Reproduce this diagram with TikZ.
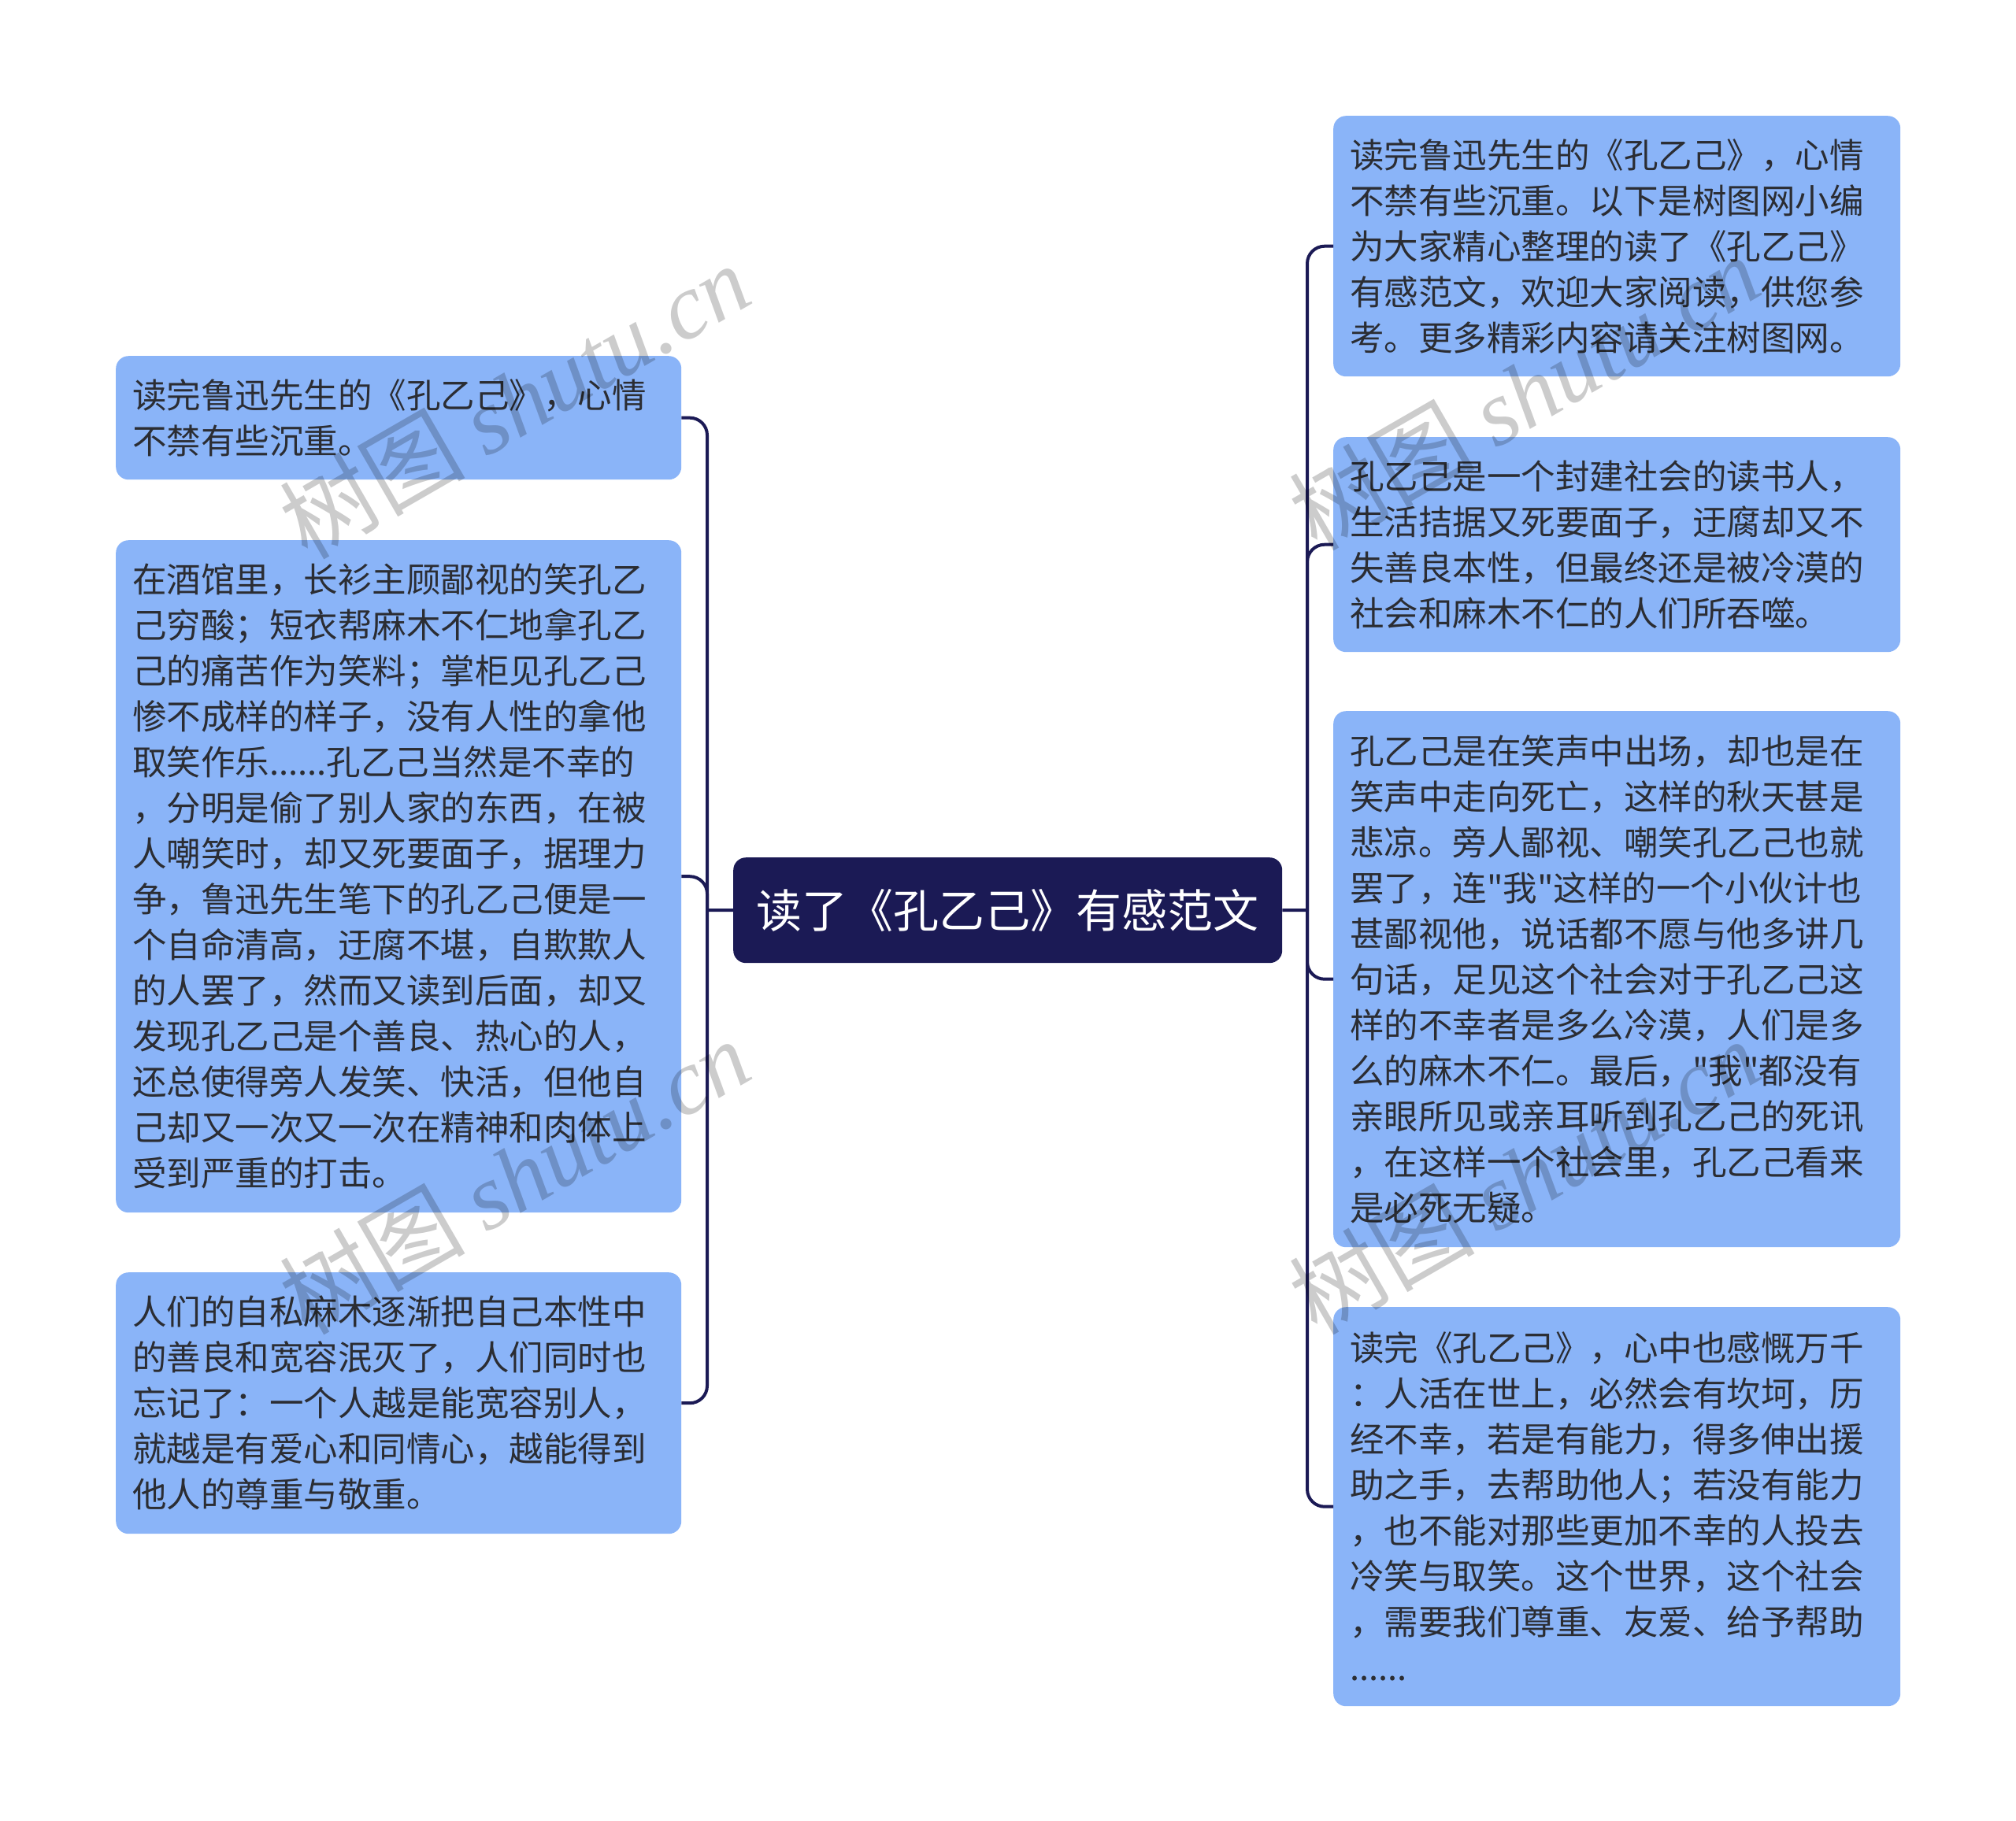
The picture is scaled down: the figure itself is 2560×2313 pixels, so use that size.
\documentclass[tikz,border=0pt]{standalone}
\usepackage{fontspec}
\setmainfont{Noto Sans CJK SC}[Ligatures=TeXOff]
\newfontfamily\wmlatin{Liberation Serif}
\newfontfamily\wmcjk{Noto Sans CJK SC}
\definecolor{navy}{HTML}{1B1A55}
\definecolor{leaf}{HTML}{8AB4F8}
\definecolor{ink}{HTML}{2B2D33}
\tikzset{
  leafbox/.style={draw=none, fill=leaf, rounded corners=16pt, anchor=north west,
    align=left, inner xsep=21pt, inner ysep=0pt, text=ink,
    font=\fontsize{43.5pt}{58pt}\selectfont},
  rootbox/.style={fill=navy, rounded corners=16pt, anchor=north west, text=white,
    minimum width=697pt, minimum height=134pt, inner sep=0pt,
    font=\fontsize{58pt}{66pt}\selectfont},
  link/.style={draw=navy, line width=4pt, rounded corners=22pt},
  wm/.style={text=black, opacity=0.2, rotate=30, inner sep=0pt,
    font=\fontsize{118pt}{120pt}\selectfont}
}
\begin{document}
\begin{tikzpicture}[x=1pt,y=-1pt]
\useasboundingbox (0,0) rectangle (2560,2313);
\fill[white] (0,0) rectangle (2560,2313);

% root
\node[rootbox] (C) at (931,1089) {读了《孔乙己》有感范文};

% left leaves
\node[leafbox, text width=676pt, minimum height=157pt] (L1) at (147,452) {读完鲁迅先生的《孔乙己》，心情\\不禁有些沉重。};
\node[leafbox, text width=676pt, minimum height=854pt] (L2) at (147,686) {在酒馆里，长衫主顾鄙视的笑孔乙\\己穷酸；短衣帮麻木不仁地拿孔乙\\己的痛苦作为笑料；掌柜见孔乙己\\惨不成样的样子，没有人性的拿他\\取笑作乐......孔乙己当然是不幸的\\，分明是偷了别人家的东西，在被\\人嘲笑时，却又死要面子，据理力\\争，鲁迅先生笔下的孔乙己便是一\\个自命清高，迂腐不堪，自欺欺人\\的人罢了，然而又读到后面，却又\\发现孔乙己是个善良、热心的人，\\还总使得旁人发笑、快活，但他自\\己却又一次又一次在精神和肉体上\\受到严重的打击。};
\node[leafbox, text width=676pt, minimum height=332pt] (L3) at (147,1616) {人们的自私麻木逐渐把自己本性中\\的善良和宽容泯灭了，人们同时也\\忘记了：一个人越是能宽容别人，\\就越是有爱心和同情心，越能得到\\他人的尊重与敬重。};

% right leaves
\node[leafbox, text width=678pt, minimum height=331pt] (R1) at (1693,147) {读完鲁迅先生的《孔乙己》，心情\\不禁有些沉重。以下是树图网小编\\为大家精心整理的读了《孔乙己》\\有感范文，欢迎大家阅读，供您参\\考。更多精彩内容请关注树图网。};
\node[leafbox, text width=678pt, minimum height=273pt] (R2) at (1693,555) {孔乙己是一个封建社会的读书人，\\生活拮据又死要面子，迂腐却又不\\失善良本性，但最终还是被冷漠的\\社会和麻木不仁的人们所吞噬。};
\node[leafbox, text width=678pt, minimum height=681pt] (R3) at (1693,903) {孔乙己是在笑声中出场，却也是在\\笑声中走向死亡，这样的秋天甚是\\悲凉。旁人鄙视、嘲笑孔乙己也就\\罢了，连"我"这样的一个小伙计也\\甚鄙视他，说话都不愿与他多讲几\\句话，足见这个社会对于孔乙己这\\样的不幸者是多么冷漠，人们是多\\么的麻木不仁。最后，"我"都没有\\亲眼所见或亲耳听到孔乙己的死讯\\，在这样一个社会里，孔乙己看来\\是必死无疑。};
\node[leafbox, text width=678pt, minimum height=507pt] (R4) at (1693,1660) {读完《孔乙己》，心中也感慨万千\\：人活在世上，必然会有坎坷，历\\经不幸，若是有能力，得多伸出援\\助之手，去帮助他人；若没有能力\\，也不能对那些更加不幸的人投去\\冷笑与取笑。这个世界，这个社会\\，需要我们尊重、友爱、给予帮助\\......};

% connectors
\coordinate (BL) at (898,1156);
\coordinate (BR) at (1660,1156);
\draw[link] (C.west) -- (BL);
\draw[link] (C.east) -- (BR);
\foreach \n in {L1,L2,L3} \draw[link] (BL) |- (\n.east);
\foreach \n in {R1,R2,R3,R4} \draw[link] (BR) |- (\n.west);

% watermarks
\node[wm] (W1) at (653,509) {{\wmcjk 树图} {\wmlatin\itshape shutu.cn}};
\node[wm] (W2) at (653,1494) {{\wmcjk 树图} {\wmlatin\itshape shutu.cn}};
\node[wm] (W3) at (1935,498) {{\wmcjk 树图} {\wmlatin\itshape shutu.cn}};
\node[wm] (W4) at (1935,1494) {{\wmcjk 树图} {\wmlatin\itshape shutu.cn}};
\end{tikzpicture}
\end{document}
